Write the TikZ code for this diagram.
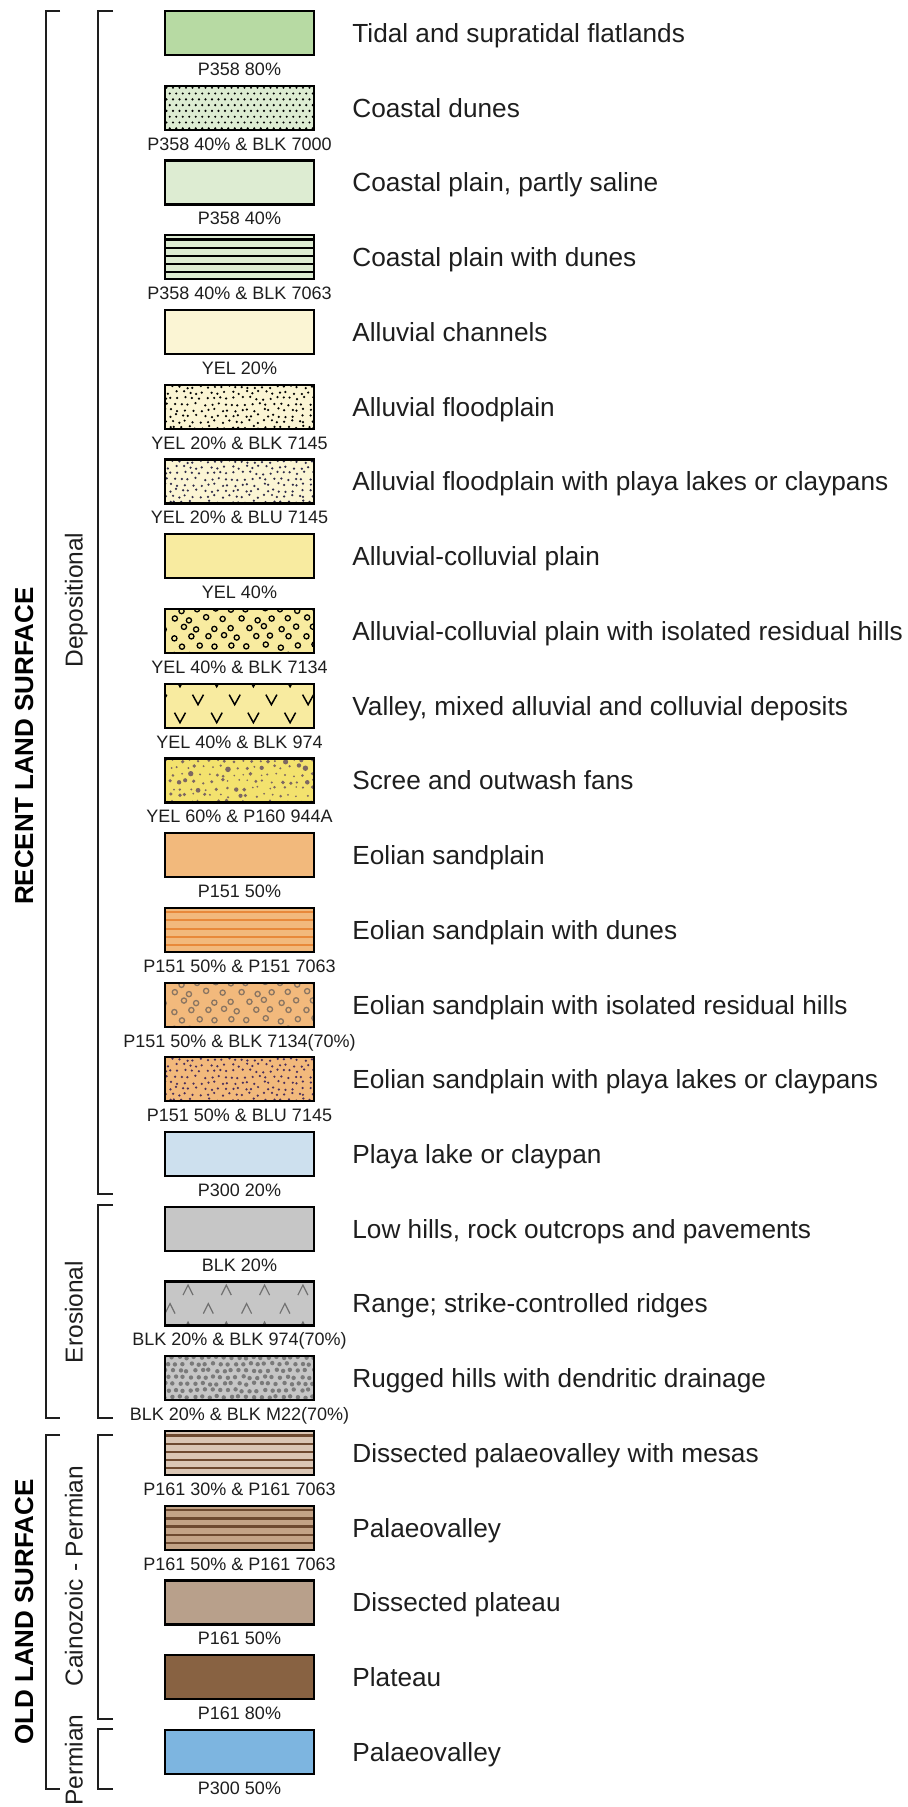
\documentclass[tikz,border=0pt]{standalone}
\usepackage{fontspec}
\setmainfont{Liberation Sans}
\usetikzlibrary{positioning}

\definecolor{greenA}{HTML}{B7DAA3}
\definecolor{greenB}{HTML}{DDECD2}
\definecolor{yelA}{HTML}{FBF5D4}
\definecolor{yelB}{HTML}{F8EBA0}
\definecolor{yelC}{HTML}{F3E26E}
\definecolor{orangeA}{HTML}{F2B97C}
\definecolor{orangeline}{HTML}{E8893A}
\definecolor{blueA}{HTML}{CDE0EE}
\definecolor{blueB}{HTML}{7DB5E0}
\definecolor{greyA}{HTML}{C6C6C6}
\definecolor{brownA}{HTML}{DAC6B4}
\definecolor{brownB}{HTML}{C3A386}
\definecolor{brownC}{HTML}{B8A08B}
\definecolor{brownD}{HTML}{886242}
\definecolor{brownline}{HTML}{6E4A30}
\definecolor{screebrown}{HTML}{7D6763}
\definecolor{ringgrey}{HTML}{8A7562}
\definecolor{caretgrey}{HTML}{707070}
\definecolor{pebblegrey}{HTML}{7A7A7A}
\definecolor{bluedot}{HTML}{2E2A48}
\definecolor{purpledot}{HTML}{4A2D5C}
\definecolor{inkgrey}{HTML}{1E1E1E}

% fill patterns, drawn from the swatch's top left corner (px units)
\newcommand{\hlinepattern}[2]{%
	\foreach \k in {0,...,4}
		\draw[#1, line width=#2] (-2,{4.5+8.1*\k}) -- (152,{4.5+8.1*\k});}
\newcommand{\fleckpattern}[1]{%
	\pgfmathsetseed{7}
	\foreach \r in {0,...,7} \foreach \c in {0,...,21} {
		\pgfmathsetmacro\jx{\c*7+3.5*mod(\r,2)+2.2*rand}
		\pgfmathsetmacro\jy{\r*5.8+2+1.5*rand}
		\fill[#1] (\jx,\jy) circle (0.62pt);}}
\newcommand{\ringpattern}[1]{%
	\pgfmathsetseed{3}
	\foreach \r in {0,...,5} \foreach \c in {0,...,9} {
		\pgfmathsetmacro\jx{\c*16.5+8.2*mod(\r,2)+2.5*rand}
		\pgfmathsetmacro\jy{\r*9+1+1.8*rand}
		\draw[#1, line width=0.65pt] (\jx,\jy) circle (1.3pt);}}

\tikzset{
	swatch/.style={
			fill=white,
			minimum width=74.5pt,
			minimum height=22pt,
			inner sep=0pt,
			outer sep=0pt,
			anchor=north west
		},
	swframe/.style={
			draw=black,
			line width=1.1pt
		},
	swlabel/.style={
			font=\fontsize{9}{10}\selectfont,
			text=inkgrey,
			inner sep=0pt,
			text height=6.5pt,
			text depth=0pt
		},
	swtext/.style={
			font=\fontsize{13.1}{15}\selectfont,
			text=inkgrey,
			inner sep=0pt,
			text height=9.4pt,
			text depth=0pt
		},
	grouptext/.style={
			font=\fontsize{12.25}{14}\selectfont,
			text=inkgrey,
			rotate=90,
			anchor=base,
			inner sep=0pt
		},
	surfacetext/.style={
			font=\bfseries\fontsize{13}{15}\selectfont,
			text=black,
			rotate=90,
			anchor=base,
			inner sep=0pt
		},
	bracket/.style={
			line width=1.1pt,
			draw=inkgrey
		},
	pics/nopat/.style={code={}},
	pics/dotgrid/.style={code={
		\foreach \r in {0,...,7} \foreach \c in {0,...,23}
			\fill[black] ({\c*6.5+3.25*mod(\r,2)+1.5},{\r*5.8+2}) circle (0.6pt);}},
	pics/linesblk/.style={code={\hlinepattern{black}{1.25pt}}},
	pics/linesorange/.style={code={\hlinepattern{orangeline}{1pt}}},
	pics/linesbrown/.style={code={\hlinepattern{brownline}{1.1pt}}},
	pics/fleckblk/.style={code={\fleckpattern{black}}},
	pics/fleckblu/.style={code={\fleckpattern{bluedot}}},
	pics/fleckpurple/.style={code={\fleckpattern{purpledot}}},
	pics/ringsblk/.style={code={\ringpattern{black}}},
	pics/ringsgrey/.style={code={\ringpattern{ringgrey}}},
	pics/vees/.style={code={
		\foreach \r in {0,...,2} \foreach \c in {-1,...,4}
			\draw[black, line width=0.75pt] ({\c*36.7+15+18*mod(\r,2)-5.5},{\r*18-7}) -- ++(5.5,10) -- ++(5.5,-10);}},
	pics/carets/.style={code={
		\foreach \r in {0,...,2} \foreach \c in {-1,...,4}
			\draw[caretgrey, line width=0.6pt] ({\c*38.3+23-18*mod(\r,2)-5},{\r*18.5+13.5}) -- ++(5,-10) -- ++(5,10);}},
	pics/scree/.style={code={
		\pgfmathsetseed{5}
		\foreach \r in {0,...,6} \foreach \c in {0,...,17} {
			\pgfmathsetmacro\jx{\c*8.6+4.3*mod(\r,2)+2.5*rand}
			\pgfmathsetmacro\jy{\r*7+2+2*rand}
			\pgfmathsetmacro\rr{0.45+1.1*rnd*rnd}
			\fill[screebrown] (\jx,\jy) circle (\rr pt);}}},
	pics/pebbles/.style={code={
		\pgfmathsetseed{9}
		\foreach \r in {0,...,7} \foreach \c in {0,...,20} {
			\pgfmathsetmacro\jx{\c*7.4+3.7*mod(\r,2)+1.2*rand}
			\pgfmathsetmacro\jy{\r*6.6+1+1*rand}
			\fill[pebblegrey] (\jx,\jy) circle (1.1pt);}}}
}

\begin{document}
\begin{tikzpicture}[x=0.5pt, y=-0.5pt]
\useasboundingbox (0,0) rectangle (908,1807);

\foreach \i/\col/\pat/\lab/\txt in {
	0/greenA/nopat/{P358 80\%}/{Tidal and supratidal flatlands},
	1/greenB/dotgrid/{P358 40\% \& BLK 7000}/{Coastal dunes},
	2/greenB/nopat/{P358 40\%}/{Coastal plain, partly saline},
	3/greenB/linesblk/{P358 40\% \& BLK 7063}/{Coastal plain with dunes},
	4/yelA/nopat/{YEL 20\%}/{Alluvial channels},
	5/yelA/fleckblk/{YEL 20\% \& BLK 7145}/{Alluvial floodplain},
	6/yelA/fleckblu/{YEL 20\% \& BLU 7145}/{Alluvial floodplain with playa lakes or claypans},
	7/yelB/nopat/{YEL 40\%}/{Alluvial-colluvial plain},
	8/yelB/ringsblk/{YEL 40\% \& BLK 7134}/{Alluvial-colluvial plain with isolated residual hills},
	9/yelB/vees/{YEL 40\% \& BLK 974}/{Valley, mixed alluvial and colluvial deposits},
	10/yelC/scree/{YEL 60\% \& P160 944A}/{Scree and outwash fans},
	11/orangeA/nopat/{P151 50\%}/{Eolian sandplain},
	12/orangeA/linesorange/{P151 50\% \& P151 7063}/{Eolian sandplain with dunes},
	13/orangeA/ringsgrey/{P151 50\% \& BLK 7134(70\%)}/{Eolian sandplain with isolated residual hills},
	14/orangeA/fleckpurple/{P151 50\% \& BLU 7145}/{Eolian sandplain with playa lakes or claypans},
	15/blueA/nopat/{P300 20\%}/{Playa lake or claypan},
	16/greyA/nopat/{BLK 20\%}/{Low hills, rock outcrops and pavements},
	17/greyA/carets/{BLK 20\% \& BLK 974(70\%)}/{Range; strike-controlled ridges},
	18/greyA/pebbles/{BLK 20\% \& BLK M22(70\%)}/{Rugged hills with dendritic drainage},
	19/brownA/linesbrown/{P161 30\% \& P161 7063}/{Dissected palaeovalley with mesas},
	20/brownB/linesbrown/{P161 50\% \& P161 7063}/{Palaeovalley},
	21/brownC/nopat/{P161 50\%}/{Dissected plateau},
	22/brownD/nopat/{P161 80\%}/{Plateau},
	23/blueB/nopat/{P300 50\%}/{Palaeovalley}}
{
	\node[swatch, fill=\col] (sw\i) at (165, 11+74.74*\i) {};
	\begin{scope}
		\clip (sw\i.north west) rectangle (sw\i.south east);
		\pic at (sw\i.north west) {\pat};
	\end{scope}
	\draw[swframe] (sw\i.north west) rectangle (sw\i.south east);
	\node[swlabel, below=3.5pt of sw\i] (lab\i) {\lab};
	\node[swtext, right=19pt of sw\i] (txt\i) {\txt};
}

% grouping brackets
\draw[bracket] (60,11) -| (46,1418) -- (60,1418);
\draw[bracket] (113,11) -| (98,1194) -- (113,1194);
\draw[bracket] (113,1205) -| (98,1418) -- (113,1418);
\draw[bracket] (60,1435) -| (46,1789) -- (60,1789);
\draw[bracket] (113,1435) -| (98,1719) -- (113,1719);
\draw[bracket] (113,1729) -| (98,1789) -- (113,1789);

\node[surfacetext] (recent) at (33,746) {RECENT LAND SURFACE};
\node[surfacetext] (old) at (33,1612) {OLD LAND SURFACE};
\node[grouptext] (dep) at (82.5,600) {Depositional};
\node[grouptext] (ero) at (82.5,1312) {Erosional};
\node[grouptext] (cainoperm) at (82.5,1576) {Cainozoic - Permian};
\node[grouptext] (perm) at (82.5,1760) {Permian};

\end{tikzpicture}
\end{document}
